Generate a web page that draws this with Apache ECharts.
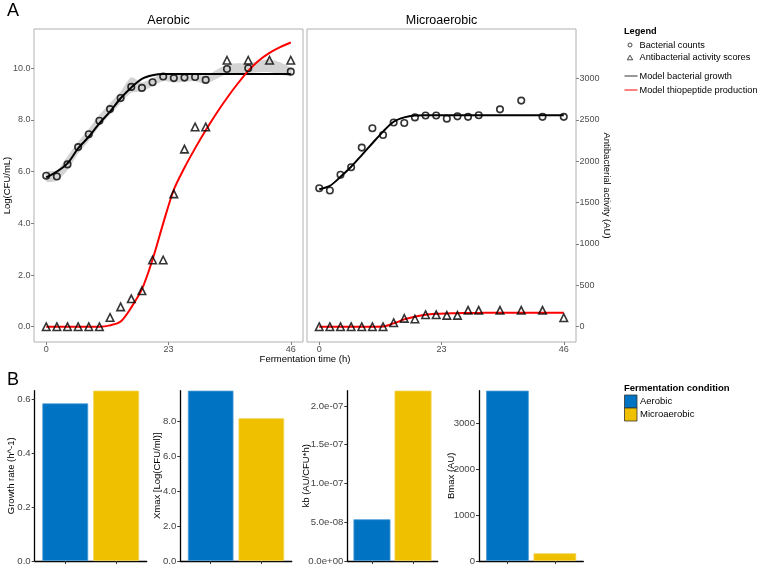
<!DOCTYPE html>
<html><head><meta charset="utf-8">
<script src="https://cdn.jsdelivr.net/npm/echarts@6/dist/echarts.min.js"></script>
<style>html,body{margin:0;padding:0;background:#fff}#c{width:760px;height:566px}</style>
</head><body><div id="c"></div>
<script>
// ---------------- DATA ----------------
const stripTitles = ['Aerobic', 'Microaerobic'];
const xTickValues = [0, 23, 46];
const yLeftTicks = [0, 2, 4, 6, 8, 10];
const yRightTicks = [0, 500, 1000, 1500, 2000, 2500, 3000];
const AU_PER_LOG = 312.3; // secondary axis scale (AU per Log unit)

const aeroCountTime = [0,2,4,6,8,10,12,14,16,18,20,22,24,26,28,30,34,38,46];
const aeroCounts    = [5.84,5.81,6.28,6.95,7.45,7.97,8.42,8.85,9.28,9.24,9.46,9.68,9.62,9.64,9.66,9.55,9.97,10.0,9.87];
const activityTime  = [0,2,4,6,8,10,12,14,16,18,20,22,24,26,28,30,34,38,42,46];
const aeroActivity  = [0,0,0,0,0,0,112,240,337,434,806,806,1605,2146,2414,2414,3220,3220,3220,3220];
const modelTime     = [0,2,4,6,8,10,12,14,16,18,20,22,24,26,28,30,32,34,36,38,40,42,44,46];
const aeroGrowthModel = [5.78,6.0,6.32,6.9,7.35,7.87,8.32,8.84,9.26,9.59,9.73,9.78,9.78,9.78,9.78,9.78,9.78,9.78,9.78,9.78,9.78,9.78,9.78,9.78];
const aeroProdModel   = [0,0,0,0,0,0,16,62,234,453,812,1249,1655,1921,2155,2373,2577,2764,2936,3092,3217,3310,3379,3435];
const bandTime     = [0,2,4,6,8,10,12,14,16,18,20,22,24,26,28,30,34,38,42,46];
const aeroBandLow  = [5.62,5.65,6.05,6.7,7.2,7.75,8.2,8.65,9.05,9.1,9.3,9.5,9.45,9.48,9.5,9.4,9.78,9.82,9.85,9.7];
const aeroBandHigh = [5.98,6.05,6.6,7.15,7.65,8.2,8.65,9.1,9.65,9.45,9.62,9.82,9.78,9.8,9.8,9.72,10.15,10.2,10.35,10.02];

const microCountTime = [0,2,4,6,8,10,12,14,16,18,20,22,24,26,28,30,34,38,42,46];
const microCounts    = [5.36,5.27,5.88,6.17,6.93,7.68,7.42,7.9,7.88,8.1,8.17,8.17,8.05,8.14,8.12,8.18,8.41,8.75,8.12,8.12];
const microActivity  = [0,0,0,0,0,0,0,48,101,93,145,145,137,137,198,198,198,198,198,109];
const microGrowthModel = [5.32,5.45,5.8,6.19,6.64,7.1,7.55,7.93,8.1,8.17,8.18,8.18,8.18,8.18,8.18,8.18,8.18,8.18,8.18,8.18,8.18,8.18,8.18,8.18];
const microProdModel   = [0,0,0,0,0,0,2,40,88,120,145,156,161,164,166,167,168,168,168,168,168,168,168,168];

const conditions = ['Aerobic', 'Microaerobic'];
const growthRate = [0.584, 0.631];
const xmaxValues = [9.77, 8.19];
const kbValues   = [5.38e-8, 2.197e-7];
const bmaxValues = [3710, 168];
const growthTicks = [0, 0.2, 0.4, 0.6];
const xmaxTicks   = [0, 2, 4, 6, 8];
const kbTicks     = [0, 5e-8, 1e-7, 1.5e-7, 2e-7];
const bmaxTicks   = [0, 1000, 2000, 3000];

// ---------------- LAYOUT / STYLE ----------------
const FONT = '"Liberation Sans", Arial, sans-serif';
const BLUE = '#0073C2', YELLOW = '#EFC000';
const Y_MIN = -0.592, Y_MAX = 11.52;
const topGrids = [
  {left: 34, top: 29, width: 269, height: 313},
  {left: 307, top: 29, width: 269, height: 313}
];
const bGrids = [
  {left: 34.7, top: 390.7, width: 112, height: 170.3},
  {left: 180.3, top: 390.7, width: 111.4, height: 170.3},
  {left: 347.3, top: 390.7, width: 90.4, height: 170.3},
  {left: 479, top: 390.7, width: 104.3, height: 170.3}
];
const zip = (a, b) => a.map((v, i) => [v, b[i]]);
const expFmt = v => v.toExponential(1).replace(/e([+-])(\d)$/, 'e$10$2');

const grids = [];
topGrids.forEach(g => grids.push(Object.assign({show: true, borderColor: '#b0b0b0', borderWidth: 1, backgroundColor: 'transparent'}, g)));
bGrids.forEach(g => grids.push(Object.assign({show: false}, g)));

const tickStyleA = {show: true, length: 3, lineStyle: {color: '#808080'}};
const labelStyleA = {color: '#4d4d4d', fontSize: 9, fontFamily: FONT, margin: 3.5};
const xAxes = [], yAxes = [];
[0, 1].forEach(i => {
  xAxes.push({
    type: 'value', gridIndex: i, min: -2.3, max: 48.3,
    axisLine: {show: false, onZero: false}, splitLine: {show: false},
    axisTick: Object.assign({customValues: xTickValues}, tickStyleA),
    axisLabel: Object.assign({customValues: xTickValues, formatter: v => String(v)}, labelStyleA)
  });
});
// y axes: 0 aero-left, 1 aero-right(hidden), 2 micro-left(hidden), 3 micro-right
yAxes.push({type: 'value', gridIndex: 0, position: 'left', min: Y_MIN, max: Y_MAX,
  axisLine: {show: false, onZero: false}, splitLine: {show: false},
  axisTick: Object.assign({customValues: yLeftTicks}, tickStyleA),
  axisLabel: Object.assign({customValues: yLeftTicks, formatter: v => v.toFixed(1)}, labelStyleA)});
yAxes.push({type: 'value', gridIndex: 0, position: 'right', min: Y_MIN * AU_PER_LOG, max: Y_MAX * AU_PER_LOG, show: false,
  axisLine: {onZero: false}});
yAxes.push({type: 'value', gridIndex: 1, position: 'left', min: Y_MIN, max: Y_MAX, show: false,
  axisLine: {onZero: false}});
yAxes.push({type: 'value', gridIndex: 1, position: 'right', min: Y_MIN * AU_PER_LOG, max: Y_MAX * AU_PER_LOG,
  axisLine: {show: false, onZero: false}, splitLine: {show: false},
  axisTick: Object.assign({customValues: yRightTicks}, tickStyleA),
  axisLabel: Object.assign({customValues: yRightTicks, formatter: v => String(v)}, labelStyleA)});

const bSets = [
  {vals: growthRate, ticks: growthTicks, fmt: v => v.toFixed(1)},
  {vals: xmaxValues, ticks: xmaxTicks, fmt: v => v.toFixed(1)},
  {vals: kbValues, ticks: kbTicks, fmt: expFmt},
  {vals: bmaxValues, ticks: bmaxTicks, fmt: v => String(v)}
];
bSets.forEach((s, k) => {
  const gi = 2 + k;
  xAxes.push({type: 'value', gridIndex: gi, min: 0.4, max: 2.6,
    axisLine: {show: true, onZero: false, lineStyle: {color: '#000', width: 1.3}},
    axisTick: {show: true, customValues: [1, 2], length: 3, lineStyle: {color: '#333'}},
    axisLabel: {show: false}, splitLine: {show: false}});
  yAxes.push({type: 'value', gridIndex: gi, min: 0, max: Math.max(...s.vals),
    axisLine: {show: true, onZero: false, lineStyle: {color: '#000', width: 1.3}},
    axisTick: {show: true, customValues: s.ticks, length: 3, lineStyle: {color: '#333'}},
    axisLabel: {customValues: s.ticks, formatter: s.fmt, color: '#444', fontSize: 9.6, fontFamily: FONT, margin: 4},
    splitLine: {show: false}});
});

const circleStyle = {color: 'rgba(0,0,0,0)', borderColor: '#000', borderWidth: 1.6};
const series = [];
// band
series.push({
  type: 'custom', xAxisIndex: 0, yAxisIndex: 0, silent: true, z: 1,
  data: bandTime.map((t, i) => [t, aeroBandLow[i], aeroBandHigh[i]]),
  encode: {x: 0, y: [1, 2]},
  renderItem: (params, api) => {
    if (params.dataIndex !== 0) return null;
    const upper = bandTime.map((t, i) => api.coord([t, aeroBandHigh[i]]));
    const lower = bandTime.map((t, i) => api.coord([t, aeroBandLow[i]])).reverse();
    return {type: 'polygon', shape: {points: upper.concat(lower), smooth: 0.25},
      style: {fill: '#d4d4d4', stroke: 'none'}};
  }
});
function addPanel(xi, yl, yr, counts, countT, growth, prod, act) {
  series.push({type: 'line', xAxisIndex: xi, yAxisIndex: yl, data: zip(modelTime, growth), showSymbol: false,
    smooth: 0.3, lineStyle: {color: '#000', width: 2}, z: 3});
  series.push({type: 'line', xAxisIndex: xi, yAxisIndex: yr, data: zip(modelTime, prod), showSymbol: false,
    smooth: 0.3, lineStyle: {color: '#ff0000', width: 2}, z: 3});
  series.push({type: 'scatter', xAxisIndex: xi, yAxisIndex: yl, data: zip(countT, counts), symbol: 'circle', symbolSize: 6.5,
    itemStyle: circleStyle, z: 5});
  series.push({type: 'scatter', xAxisIndex: xi, yAxisIndex: yr, data: zip(activityTime, act), symbol: 'triangle', symbolSize: 7.5,
    itemStyle: circleStyle, z: 5});
}
addPanel(0, 0, 1, aeroCounts, aeroCountTime, aeroGrowthModel, aeroProdModel, aeroActivity);
addPanel(1, 2, 3, microCounts, microCountTime, microGrowthModel, microProdModel, microActivity);

bSets.forEach((s, k) => {
  const bw = 0.9 * bGrids[k].width / 2.2;
  series.push({type: 'bar', xAxisIndex: 2 + k, yAxisIndex: 4 + k, barWidth: bw,
    data: s.vals.map((v, i) => ({value: [i + 1, v], itemStyle: {color: i === 0 ? BLUE : YELLOW, borderColor: i === 0 ? '#4a9ad6' : '#f3d24d', borderWidth: 0.8}}))});
});

function txt(text, x, y, opt) {
  opt = opt || {};
  return {type: 'text', x: x, y: y, rotation: opt.rot || 0, silent: true,
    style: {text: text, fill: opt.color || '#000', fontSize: opt.size || 9.5, fontFamily: FONT,
      fontWeight: opt.bold ? 'bold' : 'normal', align: opt.align || 'center', verticalAlign: opt.va || 'middle'}};
}
const LG = 9.2;
const graphics = [
  txt('A', 7, 11, {size: 18, align: 'left'}),
  txt(stripTitles[0], 168.5, 20.5, {size: 12.5}),
  txt(stripTitles[1], 441.5, 20.5, {size: 12.5}),
  txt('Fermentation time (h)', 305, 359),
  txt('Log(CFU/mL)', 7, 185.5, {rot: Math.PI / 2}),
  txt('Antibacterial activity (AU)', 607, 185.5, {rot: -Math.PI / 2}),
  txt('Legend', 624, 31, {bold: true, align: 'left', size: LG}),
  {type: 'circle', silent: true, shape: {cx: 630, cy: 45, r: 2}, style: {fill: 'none', stroke: '#333', lineWidth: 0.9}},
  txt('Bacterial counts', 639.5, 45, {align: 'left', size: LG}),
  {type: 'polygon', silent: true, shape: {points: [[627.3, 59.8], [632.7, 59.8], [630, 55.2]]}, style: {fill: 'none', stroke: '#333', lineWidth: 0.9}},
  txt('Antibacterial activity scores', 639.5, 57.7, {align: 'left', size: LG}),
  {type: 'line', silent: true, shape: {x1: 624.5, y1: 76, x2: 637.5, y2: 76}, style: {stroke: '#333', lineWidth: 1}},
  txt('Model bacterial growth', 639.5, 76, {align: 'left', size: LG}),
  {type: 'line', silent: true, shape: {x1: 624.5, y1: 90, x2: 637.5, y2: 90}, style: {stroke: '#ff0000', lineWidth: 1}},
  txt('Model thiopeptide production', 639.5, 90, {align: 'left', size: LG}),
  txt('B', 7, 380, {size: 18, align: 'left'}),
  txt('Growth rate (h^-1)', 11, 475.8, {rot: Math.PI / 2}),
  txt('Xmax [Log(CFU/ml)]', 157.5, 475.8, {rot: Math.PI / 2}),
  txt('kb (AU/CFU*h)', 306, 475.8, {rot: Math.PI / 2}),
  txt('Bmax (AU)', 451, 475.8, {rot: Math.PI / 2}),
  txt('Fermentation condition', 624, 388, {bold: true, align: 'left'}),
  {type: 'rect', silent: true, shape: {x: 624.5, y: 395, width: 12.5, height: 13}, style: {fill: BLUE, stroke: '#333', lineWidth: 0.8}},
  txt(conditions[0], 640, 401.5, {align: 'left'}),
  {type: 'rect', silent: true, shape: {x: 624.5, y: 408, width: 12.5, height: 13}, style: {fill: YELLOW, stroke: '#333', lineWidth: 0.8}},
  txt(conditions[1], 640, 414.5, {align: 'left'})
];

const chart = echarts.init(document.getElementById('c'), null, {renderer: 'canvas'});
chart.setOption({
  animation: false,
  backgroundColor: '#fff',
  grid: grids, xAxis: xAxes, yAxis: yAxes, series: series, graphic: graphics
});
</script></body></html>
